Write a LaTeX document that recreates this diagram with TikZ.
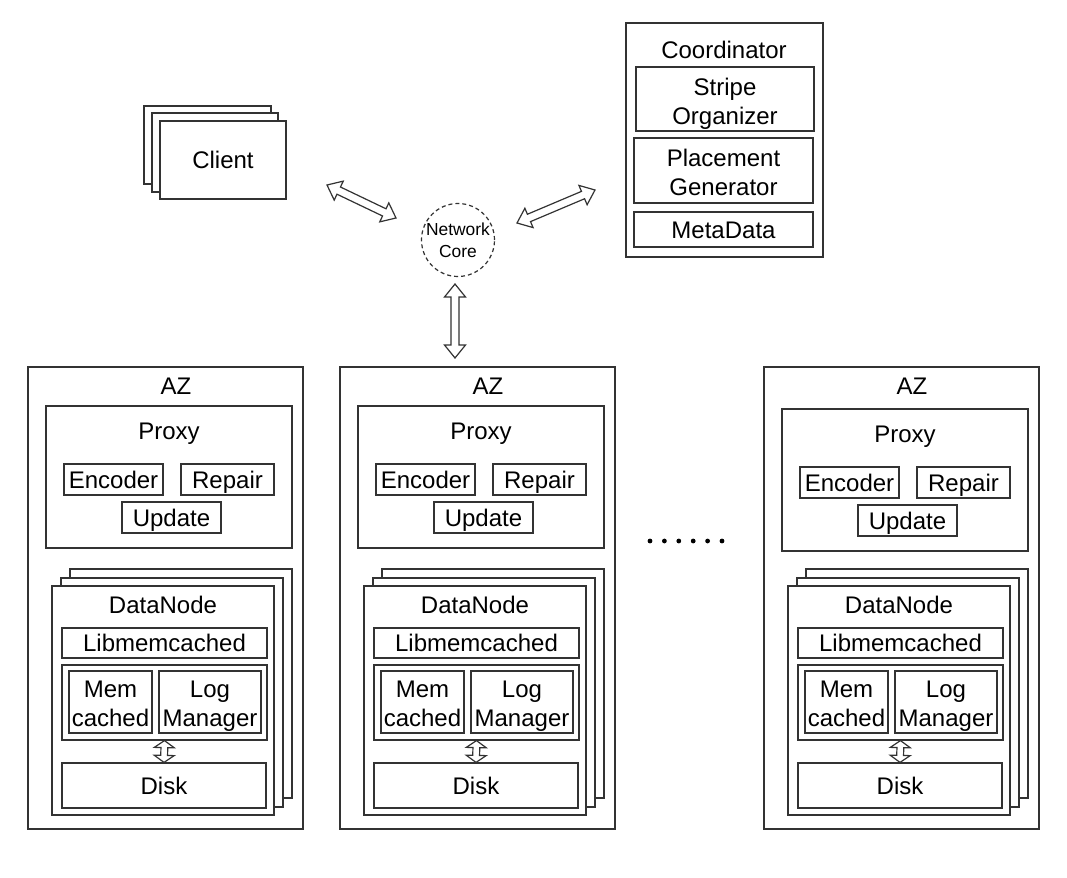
\documentclass[tikz,border=0pt]{standalone}
\usepackage{fontspec}
\setmainfont{Liberation Sans}
\usetikzlibrary{calc,fit}
\def\flexarrow(#1)(#2)(#3:#4:#5){%
	\coordinate (fa) at ($(#1)!#5!(#2)$);
	\coordinate (fb) at ($(#2)!#5!(#1)$);
	\draw[boxline] (#1) -- ($(fa)!#4!90:(#2)$) -- ($(fa)!#3!90:(#2)$) -- ($(fb)!#3!-90:(#1)$) -- ($(fb)!#4!-90:(#1)$) -- (#2) -- ($(fb)!#4!90:(#1)$) -- ($(fb)!#3!90:(#1)$) -- ($(fa)!#3!-90:(#2)$) -- ($(fa)!#4!-90:(#2)$) -- cycle;}
\def\azblock(#1:#2:#3){%
	\node[boxline, fit={({#1+28},367)({#1+303},829)}] (az#3) {};
	\node[lbl] (azt#3) at ({#1+176},394) {AZ};
	\node[boxline, fit={({#1+46},{#2+406})({#1+292},{#2+548})}] (px#3) {};
	\node[lbl] (pxt#3) at ({#1+169},{#2+439}) {Proxy};
	\node[boxline, fit={({#1+64},{#2+464})({#1+163},{#2+495})}, label={[txt1]center:Encoder}] (en#3) {};
	\node[boxline, fit={({#1+181},{#2+464})({#1+274},{#2+495})}, label={[txt1]center:Repair}] (rp#3) {};
	\node[boxline, fit={({#1+122},{#2+502})({#1+221},{#2+533})}, label={[txt1]center:Update}] (up#3) {};
	\node[boxline, fit={({#1+70},569)({#1+292},798)}] (dnc#3) {};
	\node[boxline, fit={({#1+61},578)({#1+283},807)}] (dnb#3) {};
	\node[boxline, fit={({#1+52},586)({#1+274},815)}] (dn#3) {};
	\node[lbl] (dnt#3) at ({#1+163},613) {DataNode};
	\node[boxline, fit={({#1+62},628)({#1+267},658)}, label={[txt1]center:Libmemcached}] (lb#3) {};
	\node[boxline, fit={({#1+62},665)({#1+267},740)}] (st#3) {};
	\node[boxline, fit={({#1+69},671)({#1+152},733)}, label={[txt2]center:Mem\\cached}] (mc#3) {};
	\node[boxline, fit={({#1+159},671)({#1+261},733)}, label={[txt2]center:Log\\Manager}] (lg#3) {};
	\node[boxline, fit={({#1+62},763)({#1+266},808)}, label={[txt1]center:Disk}] (dk#3) {};
	\flexarrow(st#3.south)(dk#3.north)(1.7pt:5pt:3.5pt);}
\tikzset{
	boxline/.style={draw=black!80, line width=0.6pt, fill=white, inner sep=0pt},
	txt1/.style={inner sep=0pt, text height=8.6pt, text depth=0pt, font=\fontsize{12}{14.5}\selectfont},
	txt2/.style={inner sep=0pt, align=center, text depth=0pt, yshift=-1pt, font=\fontsize{12}{14.5}\selectfont},
	lbl/.style={inner sep=0pt, anchor=base, font=\fontsize{12}{14.5}\selectfont}
}

\begin{document}
\begin{tikzpicture}[x=0.5pt, y=-0.5pt]
			%%%%% START %%%%%
			\useasboundingbox (0,0) rectangle (1067,878);
			
			\node[boxline, fit={(144,106)(271,184)}] (clc) {};
			\node[boxline, fit={(152,113)(278,192)}] (clb) {};
			\node[boxline, fit={(160,121)(286,199)}, label={[txt1]center:Client}] (cl) {};
			
			\node[draw=black!80, line width=0.6pt, dash pattern=on 2pt off 1.5pt, circle, minimum size=36.5pt, inner sep=0pt, align=center, text depth=0pt, font=\fontsize{8.7}{11.2}\selectfont] (net) at (458,240) {Network\\Core};
			
			\node[boxline, fit={(626,23)(823,257)}] (co) {};
			\node[lbl] (cot) at (724,58) {Coordinator};
			\node[boxline, fit={(636,67)(814,131)}, label={[txt2]center:Stripe\\Organizer}] (so) {};
			\node[boxline, fit={(634,138)(813,203)}, label={[txt2]center:Placement\\Generator}] (pg) {};
			\node[boxline, fit={(634,212)(813,247)}, label={[txt1]center:MetaData}] (md) {};
			
			\coordinate (l1) at (327,185);
			\coordinate (l2) at (396,218);
			\coordinate (r1) at (517,223);
			\coordinate (r2) at (595,190);
			\coordinate (v1) at (455,284);
			\coordinate (v2) at (455,358);
			\flexarrow(l1)(l2)(2pt:5.25pt:6.5pt);
			\flexarrow(r1)(r2)(2pt:5.25pt:6.5pt);
			\flexarrow(v1)(v2)(2pt:5.25pt:6.5pt);
			
			\azblock(0:0:1);
			\azblock(312:0:2);
			\azblock(736:3:3);
			
			\fill[black] (650,541) circle (1.2pt) (664.4,541) circle (1.2pt) (678.8,541) circle (1.2pt) (693.2,541) circle (1.2pt) (707.6,541) circle (1.2pt) (722,541) circle (1.2pt);
			
			%%%%% END %%%%%
		\end{tikzpicture}
\end{document}
